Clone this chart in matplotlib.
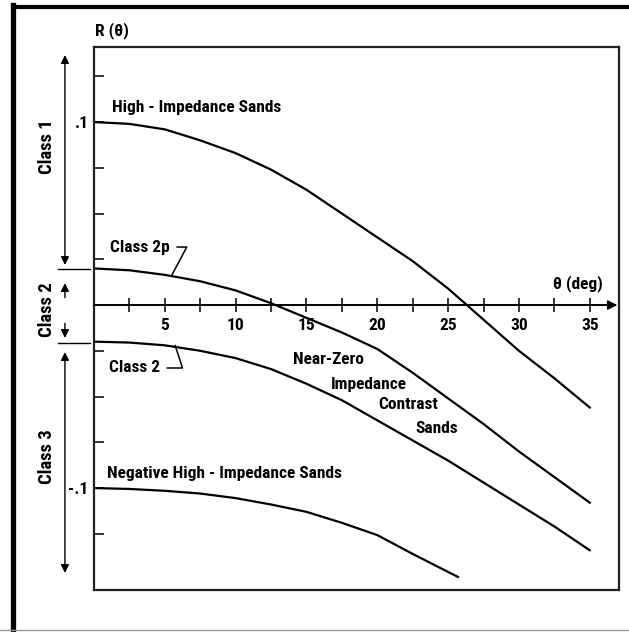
import matplotlib
matplotlib.use("Agg")
import matplotlib.pyplot as plt
from matplotlib.lines import Line2D

# angles (deg) and reflection coefficient
angle = [0, 2.5, 5, 7.5, 10, 12.5, 15, 17.5, 20, 22.5, 25, 27.5, 30, 32.5, 35]
class1 = [0.1, 0.099, 0.096, 0.090, 0.083, 0.074, 0.063, 0.050, 0.037,
          0.024, 0.009, -0.008, -0.025, -0.040, -0.056]
class2p = [0.020, 0.019, 0.0165, 0.013, 0.008, 0.001, -0.007, -0.015, -0.024,
           -0.037, -0.051, -0.065, -0.080, -0.094, -0.108]
class2 = [-0.020, -0.0205, -0.022, -0.025, -0.029, -0.035, -0.043, -0.052,
          -0.063, -0.074, -0.085, -0.097, -0.109, -0.121, -0.134]
angle3 = [0, 2.5, 5, 7.5, 10, 12.5, 15, 17.5, 20, 22.5, 25.7]
class3 = [-0.100, -0.1005, -0.1015, -0.103, -0.1055, -0.109, -0.113, -0.119,
          -0.1257, -0.136, -0.1486]

xticks_major = [5, 10, 15, 20, 25, 30, 35]
xticks_minor = [2.5, 7.5, 12.5, 17.5, 22.5, 27.5, 32.5]
yticks = [-0.125, -0.1, -0.075, -0.05, -0.025, 0.025, 0.05, 0.075, 0.1, 0.125]
ylabels = ["", "-.1", "", "", "", "", "", "", ".1", ""]

FONT = ["Liberation Sans Narrow", "DejaVu Sans Condensed", "Roboto Condensed",
        "Roboto", "DejaVu Sans"]
plt.rcParams["font.family"] = FONT
plt.rcParams["font.stretch"] = "condensed"
fs = 12.5

fig = plt.figure(figsize=(6.29, 6.32), dpi=100)
ax = fig.add_axes([0.1494, 0.0665, 0.8346, 0.8591])
ax.set_xlim(0, 37.06)
ax.set_ylim(-0.1557, 0.141)

lw = 1.6
ax.plot(angle, class1, color="black", lw=lw)
ax.plot(angle, class2p, color="black", lw=lw)
ax.plot(angle, class2, color="black", lw=lw)
ax.plot(angle3, class3, color="black", lw=lw)

# frame: left/top/right spines form the box, bottom spine is the zero axis
for s in ["left", "top", "right"]:
    ax.spines[s].set_linewidth(1.6)
    ax.spines[s].set_color("#222222")
ax.spines["bottom"].set_position(("data", 0))
ax.spines["bottom"].set_bounds(0, 36.6)
ax.spines["bottom"].set_linewidth(1.4)
ax.plot([0, 1], [0, 0], transform=ax.transAxes, color="#222222", lw=1.6,
        clip_on=False)
ax.annotate("", xy=(36.95, 0), xytext=(36.0, 0),
            arrowprops=dict(arrowstyle="-|>", color="black", lw=1.2,
                            mutation_scale=14, shrinkA=0, shrinkB=0))

ax.set_xticks(xticks_major)
ax.set_xticks(xticks_minor, minor=True)
ax.tick_params(axis="x", which="both", direction="inout", length=10, width=1.1,
               pad=4, labelsize=fs)
ax.set_yticks(yticks, ylabels)
ax.tick_params(axis="y", direction="in", length=7, width=1.1, pad=4,
               labelsize=fs)
for t in ax.get_xticklabels() + ax.get_yticklabels():
    t.set_fontweight("bold")

tkw = dict(fontsize=fs, fontweight="bold", va="center")
ax.text(0.07, 0.150, "R (θ)", ha="left", clip_on=False, **tkw)
ax.text(32.4, 0.012, "θ (deg)", ha="left", **tkw)
ax.text(1.27, 0.1077, "High - Impedance Sands", ha="left", **tkw)
ax.text(0.92, -0.0918, "Negative High - Impedance Sands", ha="left", **tkw)
ax.text(14.07, -0.030, "Near-Zero", ha="left", **tkw)
ax.text(16.69, -0.0432, "Impedance", ha="left", **tkw)
ax.text(20.08, -0.0546, "Contrast", ha="left", **tkw)
ax.text(22.7, -0.0672, "Sands", ha="left", **tkw)

ax.annotate("Class 2p", xy=(5.5, 0.0164), xytext=(5.37, 0.0317), ha="right",
            arrowprops=dict(arrowstyle="-", color="black", lw=1.1, shrinkA=3,
                            shrinkB=0,
                            connectionstyle="angle,angleA=0,angleB=62,rad=0"),
            **tkw)
ax.annotate("Class 2", xy=(5.73, -0.022), xytext=(4.67, -0.0344), ha="right",
            arrowprops=dict(arrowstyle="-", color="black", lw=1.1, shrinkA=3,
                            shrinkB=0,
                            connectionstyle="angle,angleA=0,angleB=108,rad=0"),
            **tkw)

# class brackets left of the axis
xa = -2.05
for yb in [0.0197, -0.0208]:
    ax.plot([-2.55, -0.28], [yb, yb], color="black", lw=1.0, clip_on=False)
akw = dict(color="black", lw=1.0, mutation_scale=12, shrinkA=0, shrinkB=0)
ax.annotate("", xy=(xa, 0.1366), xytext=(xa, 0.0219),
            arrowprops=dict(arrowstyle="<|-|>", **akw), annotation_clip=False)
ax.annotate("", xy=(xa, 0.0120), xytext=(xa, 0.0040),
            arrowprops=dict(arrowstyle="-|>", **akw), annotation_clip=False)
ax.annotate("", xy=(xa, -0.0180), xytext=(xa, -0.0100),
            arrowprops=dict(arrowstyle="-|>", **akw), annotation_clip=False)
ax.annotate("", xy=(xa, -0.0257), xytext=(xa, -0.1464),
            arrowprops=dict(arrowstyle="<|-|>", **akw), annotation_clip=False)
ckw = dict(fontsize=13.5, fontweight="bold", va="center", ha="center",
           rotation=90, clip_on=False)
ax.text(-3.32, 0.0863, "Class 1", **ckw)
ax.text(-3.32, -0.0027, "Class 2", **ckw)
ax.text(-3.32, -0.083, "Class 3", **ckw)

# outer scanned frame
fig.add_artist(Line2D([0.0199, 0.0199], [0.0, 0.992], color="black", lw=3.8))
fig.add_artist(Line2D([0.0199, 1.0], [0.989, 0.989], color="black", lw=3.0))
fig.add_artist(Line2D([0.0, 1.0], [0.003, 0.003], color="#999999", lw=1.0))

fig.savefig("out.png", dpi=100)
